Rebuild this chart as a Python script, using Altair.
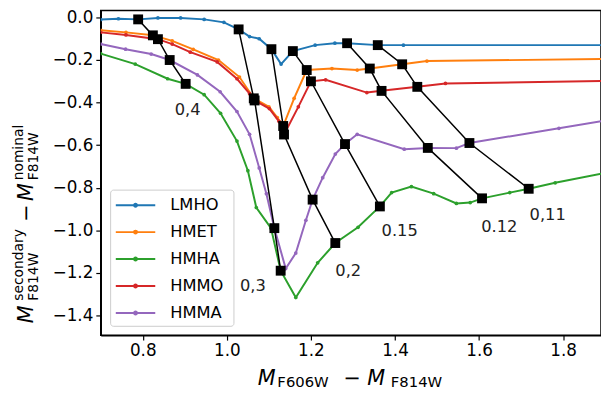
import altair as alt
import pandas as pd

# series (legend / drawing order)
series_names = ["LMHO", "HMET", "HMHA", "HMMO", "HMMA"]
series_colors = ["#1f77b4", "#ff7f0e", "#2ca02c", "#d62728", "#9467bd"]

lmho_x = [0.70, 0.742, 0.789, 0.836, 0.89, 0.946, 0.993, 1.028, 1.054, 1.077, 1.106,
          1.129, 1.157, 1.21, 1.257, 1.286, 1.359, 1.42, 1.9]
lmho_y = [-0.01, -0.006, -0.009, -0.002, -0.002, -0.009, -0.023, -0.056, -0.09, -0.10, -0.149,
          -0.219, -0.158, -0.13, -0.121, -0.121, -0.13, -0.13, -0.13]

hmet_x = [0.70, 0.76, 0.824, 0.87, 0.92, 0.98, 1.03, 1.064, 1.10, 1.12, 1.134, 1.16, 1.19,
          1.25, 1.31, 1.34, 1.417, 1.476, 1.9]
hmet_y = [-0.06, -0.07, -0.084, -0.11, -0.15, -0.2, -0.28, -0.38, -0.42, -0.47, -0.51, -0.38, -0.247,
          -0.24, -0.247, -0.24, -0.22, -0.205, -0.195]

hmha_x = [0.70, 0.782, 0.859, 0.902, 0.946, 0.985, 1.024, 1.05, 1.07, 1.105, 1.128, 1.164, 1.216,
          1.258, 1.312, 1.364, 1.392, 1.439, 1.492, 1.546, 1.579, 1.607, 1.673, 1.718, 1.781, 1.9]
hmha_y = [-0.17, -0.219, -0.288, -0.312, -0.363, -0.45, -0.581, -0.72, -0.893, -0.99, -1.19, -1.316, -1.153,
          -1.06, -0.986, -0.888, -0.823, -0.795, -0.828, -0.874, -0.87, -0.85, -0.823, -0.805, -0.777, -0.73]

hmmo_x = [0.70, 0.76, 0.836, 0.87, 0.913, 0.977, 1.024, 1.054, 1.066, 1.101, 1.124, 1.136, 1.17,
          1.2, 1.235, 1.333, 1.368, 1.453, 1.52, 1.9]
hmmo_y = [-0.07, -0.082, -0.102, -0.125, -0.163, -0.209, -0.288, -0.358, -0.39, -0.428, -0.488, -0.55, -0.42,
          -0.30, -0.293, -0.353, -0.344, -0.326, -0.31, -0.298]

hmma_x = [0.70, 0.759, 0.82, 0.864, 0.93, 0.984, 1.024, 1.054, 1.077, 1.094, 1.113, 1.14, 1.164,
          1.188, 1.204, 1.228, 1.258, 1.281, 1.31, 1.422, 1.478, 1.546, 1.577, 1.79, 1.9]
hmma_y = [-0.125, -0.149, -0.172, -0.2, -0.27, -0.349, -0.442, -0.549, -0.707, -0.828, -0.99, -1.18, -1.107,
          -0.953, -0.856, -0.753, -0.642, -0.595, -0.549, -0.619, -0.613, -0.614, -0.59, -0.521, -0.485]

# iso-lines: points on LMHO, HMET, HMMO, HMMA, HMHA
iso_labels = ["0,4", "0,3", "0,2", "0.15", "0.12", "0,11"]
iso_x = [
    [0.789, 0.824, 0.836, 0.864, 0.902],
    [1.028, 1.064, 1.066, 1.113, 1.128],
    [1.106, 1.134, 1.136, 1.204, 1.258],
    [1.157, 1.19, 1.2, 1.281, 1.364],
    [1.286, 1.34, 1.368, 1.478, 1.607],
    [1.359, 1.417, 1.453, 1.577, 1.718],
]
iso_y = [
    [-0.009, -0.084, -0.102, -0.2, -0.312],
    [-0.056, -0.38, -0.39, -0.99, -1.19],
    [-0.149, -0.51, -0.55, -0.856, -1.06],
    [-0.158, -0.247, -0.30, -0.595, -0.888],
    [-0.121, -0.24, -0.345, -0.613, -0.85],
    [-0.13, -0.22, -0.326, -0.59, -0.805],
]
label_x = [0.876, 1.031, 1.258, 1.368, 1.605, 1.72]
label_y = [-0.437, -1.26, -1.19, -1.005, -0.986, -0.93]

x_ticks = [0.8, 1.0, 1.2, 1.4, 1.6, 1.8]
y_ticks = [0.0, -0.2, -0.4, -0.6, -0.8, -1.0, -1.2, -1.4]

FONT = "DejaVu Sans"

curves = pd.concat([
    pd.DataFrame({"series": name, "x": xs, "y": ys})
    for name, xs, ys in zip(series_names,
                            [lmho_x, hmet_x, hmha_x, hmmo_x, hmma_x],
                            [lmho_y, hmet_y, hmha_y, hmmo_y, hmma_y])
], ignore_index=True)

iso = pd.concat([
    pd.DataFrame({"mass": lab, "x": xs, "y": ys, "idx": range(len(xs))})
    for lab, xs, ys in zip(iso_labels, iso_x, iso_y)
], ignore_index=True)

labels = pd.DataFrame({"text": iso_labels, "x": label_x, "y": label_y})

x_scale = alt.Scale(domain=[0.7, 1.89], nice=False, zero=False)
y_scale = alt.Scale(domain=[-1.493, 0.0325], nice=False, zero=False)

x_enc = alt.X("x:Q", scale=x_scale, axis=alt.Axis(
    values=x_ticks, format=".1f", title=None, grid=False))
y_enc = alt.Y("y:Q", scale=y_scale, axis=alt.Axis(
    values=y_ticks, title=None, grid=False,
    labelExpr="replace(format(datum.value, '.1f'), '-', '\u2212')"))

color_enc = alt.Color(
    "series:N",
    scale=alt.Scale(domain=series_names, range=series_colors),
    legend=alt.Legend(
        title=None, orient="none", legendX=10, legendY=181,
        symbolType="M-4,0L4,0M-0.3,0A0.3,0.3,0,1,1,0.3,0A0.3,0.3,0,1,1,-0.3,0",
        symbolSize=100, symbolStrokeWidth=2, symbolOffset=9,
        labelOffset=27, labelFont=FONT, labelFontSize=16.5, labelColor="black",
        padding=8, rowPadding=10.3,
    ),
)


def curve_layer(name):
    return (
        alt.Chart(curves)
        .transform_filter(alt.datum.series == name)
        .mark_line(strokeWidth=2, clip=True,
                   point=alt.OverlayMarkDef(filled=True, size=14, clip=True))
        .encode(x=x_enc, y=y_enc, color=color_enc)
    )


iso_lines = (
    alt.Chart(iso)
    .mark_line(color="black", strokeWidth=1.5)
    .encode(x=x_enc, y=y_enc, detail="mass:N", order="idx:Q")
)
iso_points = (
    alt.Chart(iso)
    .mark_square(color="black", filled=True, opacity=1, size=100)
    .encode(x=x_enc, y=y_enc)
)
iso_text = (
    alt.Chart(labels)
    .mark_text(align="left", baseline="middle", font=FONT, fontSize=16.5, color="#222222")
    .encode(x=x_enc, y=y_enc, text="text:N")
)

# legend frame (matplotlib style, drawn under the legend entries)
legend_box = (
    alt.Chart(pd.DataFrame({"a": [0]}))
    .mark_rect(fill="white", fillOpacity=0.8, stroke="#cccccc", strokeWidth=1, cornerRadius=3)
    .encode(x=alt.value(10), x2=alt.value(135), y=alt.value(182), y2=alt.value(320))
)


def piece(text, x, y, size, italic=False, angle=0):
    """One piece of a math-style axis title, placed in plot pixels."""
    return (
        alt.Chart(pd.DataFrame({"t": [text]}))
        .mark_text(align="left", baseline="alphabetic", font=FONT, fontSize=size,
                   fontStyle="italic" if italic else "normal", angle=angle, color="black")
        .encode(x=alt.value(x), y=alt.value(y), text="t:N")
    )


# x title: M_F606W - M_F814W
x_title = (
    piece("M", 159, 379, 21, italic=True)
    + piece("F606W", 179, 382, 15)
    + piece("\u2212", 246, 379, 21)
    + piece("M", 270, 379, 21, italic=True)
    + piece("F814W", 294, 382, 15)
)
# y title: M^secondary_F814W - M^nominal_F814W (rotated)
y_title = (
    piece("M", -69, 317, 21, italic=True, angle=270)
    + piece("secondary", -79, 294, 14, angle=270)
    + piece("F814W", -64, 294, 14, angle=270)
    + piece("\u2212", -69, 214, 21, angle=270)
    + piece("M", -69, 193, 21, italic=True, angle=270)
    + piece("nominal", -79, 172, 14, angle=270)
    + piece("F814W", -64, 172, 14, angle=270)
)

layers = [curve_layer(n) for n in series_names] + [iso_lines, iso_points, iso_text, legend_box]
chart = alt.layer(*layers, x_title, y_title).properties(
    width=507, height=329,
    autosize=alt.AutoSizeParams(type="none"),
    padding={"left": 94, "top": 0, "right": 0, "bottom": 55},
).configure_view(
    stroke="black", strokeWidth=1.5
).configure_axis(
    labelFont=FONT, labelFontSize=17, labelColor="black",
    tickColor="black", tickSize=5, tickWidth=1.2,
    domainColor="black", domainWidth=1.5, labelPadding=3,
)

chart.save("out.html", embed_options={"renderer": "svg", "actions": False})
